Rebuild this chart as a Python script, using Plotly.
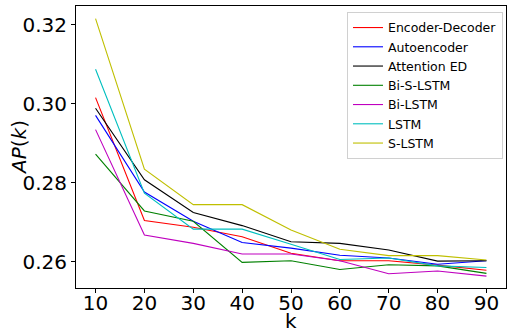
import plotly.graph_objects as go

k = [10, 20, 30, 40, 50, 60, 70, 80, 90]
encoder_decoder = [0.3015, 0.2704, 0.2687, 0.2663, 0.2621, 0.2602, 0.2602, 0.2591, 0.2578]
autoencoder = [0.2970, 0.2776, 0.2702, 0.2648, 0.2634, 0.2616, 0.2609, 0.2593, 0.2602]
attention_ed = [0.2988, 0.2807, 0.2724, 0.2691, 0.2650, 0.2646, 0.2629, 0.2601, 0.2602]
bi_s_lstm = [0.2872, 0.2728, 0.2702, 0.2598, 0.2602, 0.2580, 0.2592, 0.2589, 0.2570]
bi_lstm = [0.2934, 0.2667, 0.2646, 0.2619, 0.2619, 0.2602, 0.2569, 0.2576, 0.2563]
lstm = [0.3087, 0.2773, 0.2682, 0.2682, 0.2644, 0.2605, 0.2609, 0.2589, 0.2585]
s_lstm = [0.3215, 0.2834, 0.2744, 0.2744, 0.2680, 0.2631, 0.2615, 0.2615, 0.2604]

series = [
    ("Encoder-Decoder", encoder_decoder, "#ff0000"),
    ("Autoencoder", autoencoder, "#0000ff"),
    ("Attention ED", attention_ed, "#000000"),
    ("Bi-S-LSTM", bi_s_lstm, "#008000"),
    ("Bi-LSTM", bi_lstm, "#bf00bf"),
    ("LSTM", lstm, "#00bfbf"),
    ("S-LSTM", s_lstm, "#bfbf00"),
]

fig = go.Figure()
for name, vals, col in series:
    fig.add_trace(go.Scatter(x=k, y=vals, mode="lines", name=name,
                             line=dict(color=col, width=1.1)))

fig.update_layout(
    width=508, height=334,
    margin=dict(l=76, r=2, t=6, b=46, autoexpand=False),
    paper_bgcolor="white", plot_bgcolor="white",
    font=dict(family="DejaVu Sans", color="black"),
    showlegend=True,
    legend=dict(x=0.993, y=0.979, xanchor="right", yanchor="top",
                bgcolor="rgba(255,255,255,0.9)", bordercolor="#d0d0d0", borderwidth=1,
                font=dict(size=12.5, family="DejaVu Sans"), tracegroupgap=0,
                itemwidth=30),
    annotations=[
        dict(text="k", xref="paper", yref="paper", x=0.5, y=-0.117,
             xanchor="center", yanchor="middle", showarrow=False,
             font=dict(size=20)),
        dict(text="<i>AP</i>(<i>k</i>)", xref="paper", yref="paper", x=-0.1326, y=0.5,
             xanchor="center", yanchor="middle", showarrow=False, textangle=-90,
             font=dict(size=20)),
    ],
)
fig.update_xaxes(range=[6, 94], tickvals=k, ticktext=[str(v) for v in k],
                 automargin=False, ticklabelstandoff=-7,
                 showgrid=False, zeroline=False, showline=True, linecolor="black",
                 linewidth=1, mirror=True, ticks="outside", ticklen=4, tickcolor="black",
                 tickfont=dict(size=20))
fig.update_yaxes(range=[0.2533, 0.3247], tickvals=[0.26, 0.28, 0.30, 0.32],
                 ticktext=["0.26", "0.28", "0.30", "0.32"],
                 automargin=False,
                 showgrid=False, zeroline=False, showline=True, linecolor="black",
                 linewidth=1, mirror=True, ticks="outside", ticklen=4, tickcolor="black",
                 tickfont=dict(size=20))

fig.write_html("out.html", config={"displayModeBar": False},
               post_script="document.body.style.margin='0';")
